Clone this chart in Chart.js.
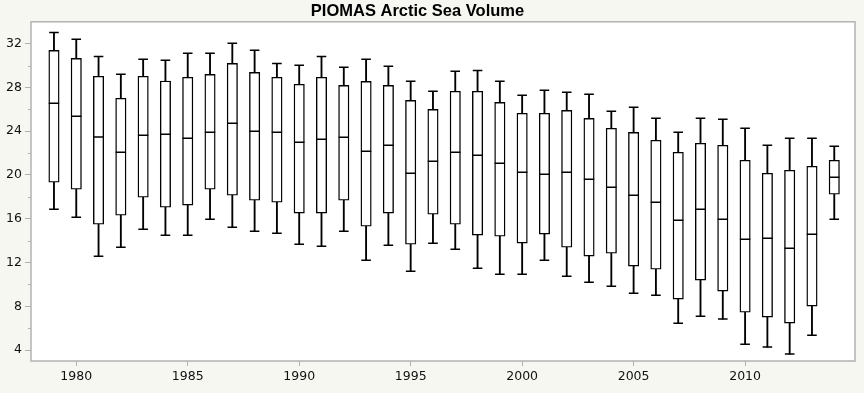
<!DOCTYPE html>
<html><head><meta charset="utf-8">
<script src="https://cdn.jsdelivr.net/npm/chart.js@4"></script>
<style>html,body{margin:0;padding:0;background:#f7f7f2;} canvas{display:block}</style>
</head><body>
<canvas id="c" width="864" height="393"></canvas>
<script>
const chartTitle = 'PIOMAS Arctic Sea Volume';
const years = [1979,1980,1981,1982,1983,1984,1985,1986,1987,1988,1989,1990,1991,1992,1993,1994,1995,1996,1997,1998,1999,2000,2001,2002,2003,2004,2005,2006,2007,2008,2009,2010,2011,2012,2013,2014];
const maxVals = [33.03,32.40,30.84,29.20,30.57,30.48,31.12,31.12,32.03,31.39,30.20,30.02,30.84,29.84,30.57,29.93,28.56,27.65,29.47,29.56,28.56,27.28,27.74,27.56,27.37,25.82,26.19,25.18,23.90,25.18,25.09,24.27,22.72,23.35,23.35,22.62];
const q3Vals = [31.39,30.66,29.02,27.01,29.02,28.59,28.93,29.20,30.20,29.38,28.93,28.29,28.93,28.19,28.56,28.19,26.82,26.00,27.65,27.65,26.64,25.64,25.64,25.91,25.18,24.27,23.90,23.17,22.08,22.90,22.72,21.35,20.16,20.43,20.80,21.35];
const medians = [26.55,25.36,23.48,22.08,23.63,23.72,23.35,23.90,24.72,23.99,23.90,22.99,23.26,23.45,22.17,22.72,20.16,21.25,22.08,21.80,21.07,20.25,20.07,20.25,19.61,18.88,18.15,17.51,15.87,16.87,15.96,14.13,14.22,13.31,14.59,19.79];
const q1Vals = [19.34,18.70,15.50,16.32,17.97,17.05,17.24,18.70,18.15,17.69,17.51,16.51,16.51,17.69,15.32,16.51,13.67,16.41,15.50,14.50,14.40,13.77,14.59,13.40,12.58,12.85,11.67,11.39,8.65,10.39,9.38,7.46,7.01,6.46,8.01,18.24];
const minVals = [16.87,16.14,12.58,13.40,15.04,14.50,14.50,15.96,15.23,14.86,14.68,13.67,13.49,14.86,12.21,13.58,11.21,13.77,13.22,11.48,10.93,10.93,12.21,10.75,10.20,9.84,9.20,9.02,6.46,7.10,6.83,4.54,4.27,3.63,5.36,15.96];
const xTickLabels = [1980,1985,1990,1995,2000,2005,2010];
const yTickLabels = [4,8,12,16,20,24,28,32];
const yMinorTicks = [6,10,14,18,22,26,30];

const BG = '#f7f7f2';
const FRAME = '#b2b2b2';
const INK = '#000000';

const boxData = years.map((x,i)=>({x, y:[q1Vals[i], q3Vals[i]]}));
const lowWhisker = years.map((x,i)=>({x, y:[minVals[i], q1Vals[i]]}));
const highWhisker = years.map((x,i)=>({x, y:[q3Vals[i], maxVals[i]]}));
const capData = years.map((x,i)=>({x, y:maxVals[i]})).concat(years.map((x,i)=>({x, y:minVals[i]})));
const medianData = years.map((x,i)=>({x, y:medians[i]}));

const framePlugin = {
  id: 'frame',
  afterLayout(chart){
    if (chart.titleBlock){ chart.titleBlock.left = 0; chart.titleBlock.right = 835; }
  },
  beforeDraw(chart){
    const {ctx, chartArea:a} = chart;
    ctx.save();
    ctx.fillStyle = BG; ctx.fillRect(0,0,chart.width,chart.height);
    ctx.fillStyle = '#ffffff'; ctx.fillRect(a.left,a.top,a.right-a.left,a.bottom-a.top);
    ctx.restore();
  },
  afterDraw(chart){
    const {ctx, chartArea:a} = chart;
    const ys = chart.scales.y;
    ctx.save();
    ctx.strokeStyle = FRAME; ctx.lineWidth = 1.5;
    ctx.strokeRect(a.left, a.top, a.right-a.left, a.bottom-a.top);
    ctx.lineWidth = 1;
    ctx.beginPath();
    yMinorTicks.forEach(v=>{
      const p = Math.round(ys.getPixelForValue(v)) + 0.5;
      ctx.moveTo(a.left-3, p); ctx.lineTo(a.left, p);
    });
    ctx.stroke();
    ctx.restore();
  }
};

new Chart(document.getElementById('c'), {
  type: 'bar',
  data: {
    datasets: [
      { type:'scatter', data: medianData, pointStyle:'line', pointRadius:5.2, pointBorderWidth:1.5, borderColor:INK, backgroundColor:INK, showLine:false, order:0 },
      { type:'scatter', data: capData, pointStyle:'line', pointRadius:4.8, pointBorderWidth:1.5, borderColor:INK, backgroundColor:INK, showLine:false, order:1 },
      { type:'bar', data: boxData, backgroundColor:'#ffffff', borderColor:INK, borderWidth:1.4, barThickness:10.4, grouped:false, borderSkipped:false, order:2 },
      { type:'bar', data: lowWhisker, backgroundColor:INK, borderWidth:0, barThickness:1.2, grouped:false, order:3 },
      { type:'bar', data: highWhisker, backgroundColor:INK, borderWidth:0, barThickness:1.2, grouped:false, order:3 }
    ]
  },
  options: {
    responsive:false, animation:false, devicePixelRatio:1,
    layout:{ padding:{ left:0, right:9, top:0, bottom:0 } },
    plugins:{
      legend:{display:false}, tooltip:{enabled:false},
      title:{ display:true, text:chartTitle, color:'#000', font:{family:'Liberation Sans', size:16.5, weight:'bold'}, padding:{top:2,bottom:0} }
    },
    scales:{
      x:{
        type:'linear', min:1977.97, max:2014.93, offset:false,
        afterBuildTicks(s){ s.ticks = xTickLabels.map(v=>({value:v})); },
        afterFit(s){ s.height = 32; },
        border:{display:false},
        grid:{ offset:false, drawOnChartArea:false, drawTicks:true, tickLength:5, tickColor:FRAME, lineWidth:1 },
        ticks:{ callback:v=>String(v), color:'#111', font:{family:'DejaVu Sans', size:12.5}, padding:3, maxRotation:0, autoSkip:false }
      },
      y:{
        type:'linear', min:3, max:34,
        afterBuildTicks(s){ s.ticks = yTickLabels.map(v=>({value:v})); },
        afterFit(s){ s.width = 31; },
        border:{display:false},
        grid:{ drawOnChartArea:false, drawTicks:true, tickLength:6, tickColor:FRAME, lineWidth:1 },
        ticks:{ callback:v=>String(v), color:'#111', font:{family:'DejaVu Sans', size:12.5}, padding:3, autoSkip:false }
      }
    }
  },
  plugins:[framePlugin]
});
</script>
</body></html>
